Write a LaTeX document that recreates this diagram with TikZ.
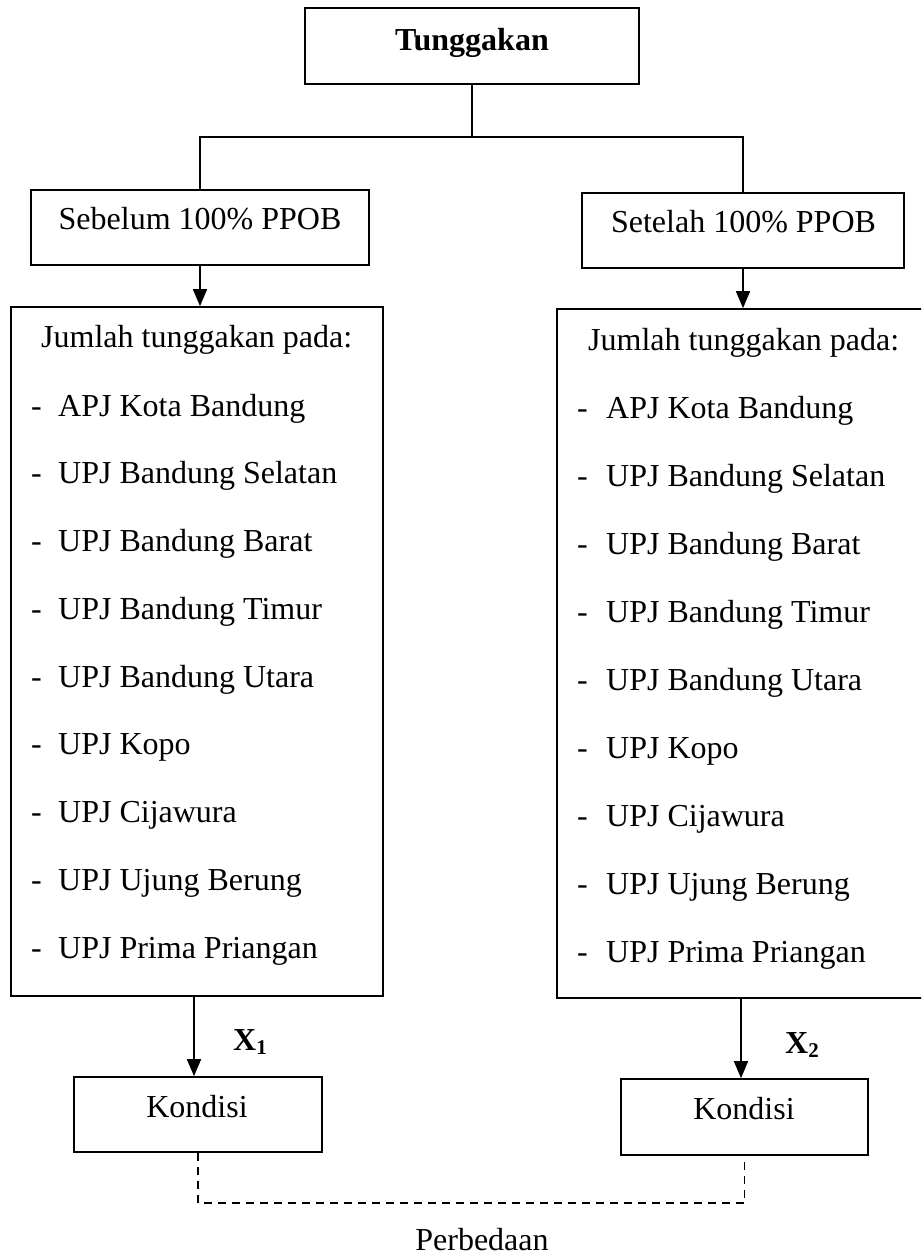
\documentclass[tikz,border=0pt]{standalone}
\usepackage{fontspec}
\setmainfont{Liberation Serif}
\usetikzlibrary{arrows.meta}
\begin{document}
\begin{tikzpicture}[x=1pt,y=-1pt,
  box/.style={draw, line width=1.7pt, rectangle, inner sep=0pt},
  txt/.style={inner sep=0pt, font=\fontsize{32}{38}\selectfont},
  btxt/.style={inner sep=0pt, font=\fontsize{32}{38}\selectfont\bfseries},
  conn/.style={line width=1.7pt},
  arr/.style={conn, -{Triangle[length=17pt,width=14pt]}},
  dsh/.style={line width=1.6pt, dash pattern=on 8pt off 6pt}]
\useasboundingbox (0,0) rectangle (921,1258);
\clip (0,0) rectangle (921,1258);

% top box
\node[box, minimum width=334pt, minimum height=76pt] (top) at (472,46) {};
\node[btxt, anchor=base] (toptxt) at (472,50) {Tunggakan};

% second level
\node[box, minimum width=338pt, minimum height=75pt] (seb) at (200,227.5) {};
\node[txt, anchor=base] (sebtxt) at (200,229) {Sebelum 100\% PPOB};
\node[box, minimum width=322pt, minimum height=75pt] (set) at (743,230.5) {};
\node[txt, anchor=base] (settxt) at (743.5,232) {Setelah 100\% PPOB};

\coordinate (j) at (472,137);
\draw[conn] (top.south) -- (j);
\draw[conn] (seb.north) |- (j) -| (set.north);

% list boxes
\node[box, minimum width=372pt, minimum height=689pt] (lbox) at (197,651.5) {};
\node[box, minimum width=368pt, minimum height=689pt] (rbox) at (741,653.5) {};

\draw[arr] (seb.south) -- (seb.south |- lbox.north);
\draw[arr] (set.south) -- (set.south |- rbox.north);

% list texts left
\node[txt, anchor=base west] (lhead) at (41,347) {Jumlah tunggakan pada:};
\foreach [count=\i] \t in {APJ Kota Bandung, UPJ Bandung Selatan, UPJ Bandung Barat, UPJ Bandung Timur, UPJ Bandung Utara, UPJ Kopo, UPJ Cijawura, UPJ Ujung Berung, UPJ Prima Priangan} {
  \node[txt, anchor=base west] (lh\i) at (31,{416+67.75*(\i-1)}) {-};
  \node[txt, anchor=base west] (li\i) at (58,{416+67.75*(\i-1)}) {\t};
}
% list texts right
\node[txt, anchor=base west] (rhead) at (588,350) {Jumlah tunggakan pada:};
\foreach [count=\i] \t in {APJ Kota Bandung, UPJ Bandung Selatan, UPJ Bandung Barat, UPJ Bandung Timur, UPJ Bandung Utara, UPJ Kopo, UPJ Cijawura, UPJ Ujung Berung, UPJ Prima Priangan} {
  \node[txt, anchor=base west] (rh\i) at (577,{418+68*(\i-1)}) {-};
  \node[txt, anchor=base west] (ri\i) at (606,{418+68*(\i-1)}) {\t};
}

% Kondisi boxes
\node[box, minimum width=248pt, minimum height=75pt] (kon1) at (198,1114.5) {};
\node[txt, anchor=base] (kon1txt) at (197,1117) {Kondisi};
\node[box, minimum width=247pt, minimum height=76pt] (kon2) at (744.5,1117) {};
\node[txt, anchor=base] (kon2txt) at (744,1119) {Kondisi};

\draw[arr] (lbox.south -| 194,0) -- (194,0 |- kon1.north);
\draw[arr] (rbox.south -| 741,0) -- (741,0 |- kon2.north);

\node[btxt, anchor=base west] (x1) at (233,1050) {X\raisebox{-4pt}{\fontsize{21}{24}\selectfont 1}};
\node[btxt, anchor=base west] (x2) at (785,1053) {X\raisebox{-4pt}{\fontsize{21}{24}\selectfont 2}};

% dashed link
\coordinate (dj) at (470,1203);
\draw[dsh] (kon1.south) |- (dj) -| (kon2.south);

\node[txt, anchor=base] (perb) at (482,1250) {Perbedaan};
\end{tikzpicture}
\end{document}
